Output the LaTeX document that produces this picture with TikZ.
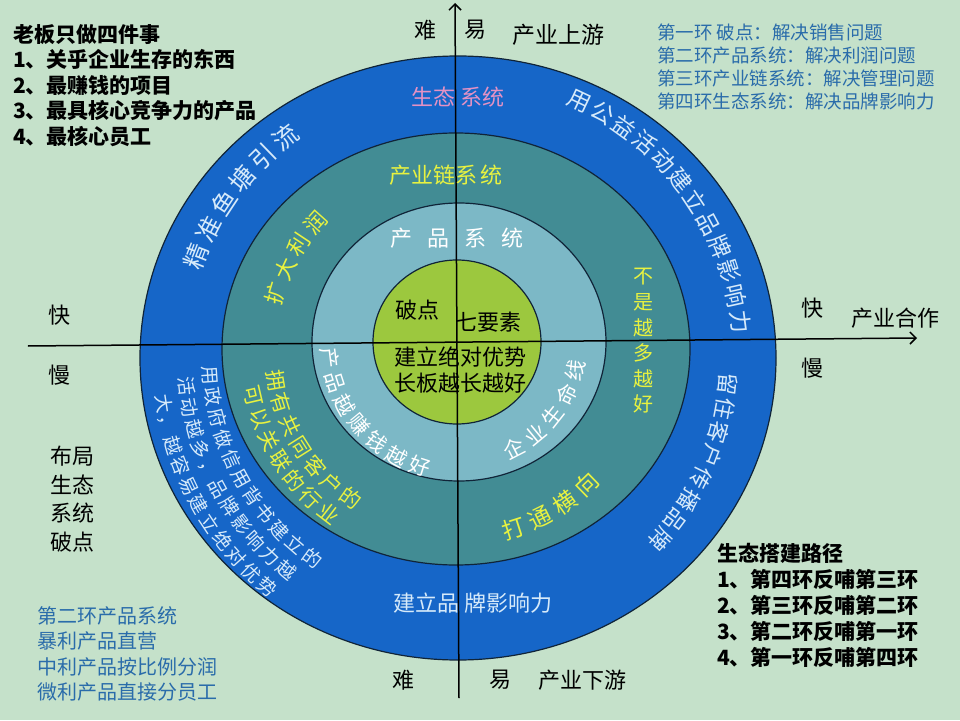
\documentclass[tikz,border=0pt]{standalone}
\usepackage{fontspec}
\setmainfont{Noto Sans CJK SC}
\usetikzlibrary{calc,arrows.meta,decorations.text}

\definecolor{bgGreen}{RGB}{197,225,202}
\definecolor{ringBlue}{RGB}{22,102,200}
\definecolor{ringTeal}{RGB}{66,140,148}
\definecolor{ringLight}{RGB}{124,184,198}
\definecolor{coreGreen}{RGB}{156,200,62}
\definecolor{edgeDark}{RGB}{16,36,56}
\definecolor{noteBlue}{RGB}{42,108,170}
\definecolor{paleText}{RGB}{214,234,250}
\definecolor{yellowText}{RGB}{232,242,64}
\definecolor{pinkText}{RGB}{228,146,196}

\tikzset{
  ring/.style={draw=edgeDark, line width=1.2pt},
  axisline/.style={line width=1.5pt, -{Straight Barb[length=6pt,width=12pt]}},
  word/.style={inner sep=0pt, font=\fontsize{22}{22}\selectfont},
  notes/.style={anchor=north west, inner sep=0pt, align=left},
  arctext/.style n args={3}{decorate, decoration={text along path, text align=fit to path, text color=#3, text={|\fontsize{#2}{#2}\selectfont|#1}}}
}

\begin{document}
\begin{tikzpicture}[x=1pt,y=1pt]
  % canvas
  \fill[bgGreen] (-457,-378) rectangle (503,342);
  \useasboundingbox (-457,-378) rectangle (503,342);

  % ring centres
  \coordinate (bc) at (1,-16);
  \coordinate (tc) at (-1,-7);
  \coordinate (lc) at (2,0);
  \coordinate (gc) at (0,0);

  % the four rings
  \draw[ring, fill=ringBlue] (bc) ellipse [x radius=318pt, y radius=302pt];
  \draw[ring, fill=ringTeal] (tc) ellipse [x radius=234pt, y radius=216pt];
  \draw[ring, fill=ringLight] (lc) ellipse [x radius=147pt, y radius=139pt];
  \draw[ring, fill=coreGreen] (gc) ellipse [x radius=84pt, y radius=82pt];

  % axes
  \coordinate (xl) at (-429,-4);
  \coordinate (xr) at (460,4);
  \coordinate (yb) at (2,-356);
  \coordinate (yt) at (-2,339);
  \draw[axisline] (xl) -- (xr);
  \draw[axisline] (yb) -- (yt);

  % axis words
  \node[word] (hardT) at (-32,312) {难};
  \node[word] (easyT) at (18,312) {易};
  \node[word, font=\fontsize{23}{23}\selectfont] (upstream) at (101,307) {产业上游};
  \node[word] (hardB) at (-54,-338) {难};
  \node[word] (easyB) at (43,-338) {易};
  \node[word] (downstream) at (125,-338) {产业下游};
  \node[word] (fastL) at (-397,27) {快};
  \node[word] (slowL) at (-397,-33) {慢};
  \node[word] (fastR) at (355,34) {快};
  \node[word] (slowR) at (355,-26) {慢};
  \node[word] (partner) at (438,24) {产业合作};

  % side notes
  \node[notes, font=\fontsize{21}{25.5}\selectfont\bfseries] (bossList) at (-444,318)
    {老板只做四件事\\1、关乎企业生存的东西\\2、最赚钱的项目\\3、最具核心竞争力的产品\\4、最核心员工};
  \node[notes, text=noteBlue, font=\fontsize{18.5}{23}\selectfont] (loopList) at (200,318)
    {第一环 破点：解决销售问题\\第二环产品系统：解决利润问题\\第三环产业链系统：解决管理问题\\第四环生态系统：解决品牌影响力};
  \node[notes, font=\fontsize{21}{26}\selectfont\bfseries] (buildList) at (260,-201)
    {生态搭建路径\\1、第四环反哺第三环\\2、第三环反哺第二环\\3、第二环反哺第一环\\4、第一环反哺第四环};
  \node[notes, font=\fontsize{22}{28.5}\selectfont] (layoutList) at (-407,-104)
    {布局\\生态\\系统\\破点};
  \node[notes, text=noteBlue, font=\fontsize{20}{25.5}\selectfont] (profitList) at (-420,-264)
    {第二环产品系统\\暴利产品直营\\中利产品按比例分润\\微利产品直接分员工};

  % ring titles
  \node[word, text=pinkText] (ecoTitle) at (1,245) {生态\hspace{6pt}系统};
  \node[word, text=yellowText] (chainTitle) at (-11,167) {产业链系\hspace{4pt}统};
  \node[word, text=white] (productTitle) at (0,104) {产\hspace{15pt}品\hspace{15pt}系\hspace{15pt}统};
  \node[word, text=paleText] (brandTitle) at (16,-261) {建立品\hspace{6pt}牌影响力};
  \node[word, text=yellowText, align=center, font=\fontsize{20}{25.6}\selectfont] (notMore) at (186,1)
    {不\\是\\越\\多\\越\\好};

  % core
  \node[word] (breakPt) at (-40,32) {破点};
  \node[word] (sevenEl) at (31,20) {七要素};
  \node[word] (edgeTxt) at (3,-15) {建立绝对优势};
  \node[word] (longTxt) at (3,-41) {长板越长越好};

  % curved text, blue ring
  \path[arctext={精准鱼塘引流}{25}{paleText}] ($(bc)+(161.4:271pt)$) arc[start angle=161.4, end angle=125.4, radius=271pt];
  \path[arctext={用公益活动建立品牌影响力}{23}{paleText}] ($(bc)+(67.1:276pt)$) arc[start angle=67.1, end angle=5, radius=276pt];
  \path[arctext={留住客户传播品牌}{22}{paleText}] ($(bc)+(-3.1:263pt)$) arc[start angle=-3.1, end angle=-44.3, radius=263pt];
  \path[arctext={用政府做信用背书建立的}{19}{paleText}] ($(bc)+(182:255pt)$) arc[start angle=182, end angle=236, radius=255pt];
  \path[arctext={活动越多，品牌影响力越}{19}{paleText}] ($(bc)+(184:280pt)$) arc[start angle=184, end angle=233, radius=280pt];
  \path[arctext={大，越容易建立绝对优势}{19}{paleText}] ($(bc)+(187:305pt)$) arc[start angle=187, end angle=232, radius=305pt];

  % curved text, teal ring
  \path[arctext={扩大利润}{22}{yellowText}] ($(tc)+(166.5:180pt)$) arc[start angle=166.5, end angle=134.6, radius=180pt];
  \path[arctext={拥有共同客户的}{21}{yellowText}] ($(tc)+(186.7:191pt)$) arc[start angle=186.7, end angle=237.9, radius=191pt];
  \path[arctext={可以关联的行业}{21}{yellowText}] ($(tc)+(190.3:216pt)$) arc[start angle=190.3, end angle=235, radius=216pt];
  \path[arctext={打通横向}{23}{yellowText}] ($(tc)+(-75.6:197pt)$) arc[start angle=-75.6, end angle=-42.5, radius=197pt];

  % curved text, light ring
  \path[arctext={产品越赚钱越好}{21}{white}] ($(lc)+(182.6:138pt)$) arc[start angle=182.6, end angle=256.7, radius=138pt];
  \path[arctext={企业生命线}{21}{white}] ($(lc)+(-67.5:128pt)$) arc[start angle=-67.5, end angle=-9.1, radius=128pt];
\end{tikzpicture}
\end{document}
